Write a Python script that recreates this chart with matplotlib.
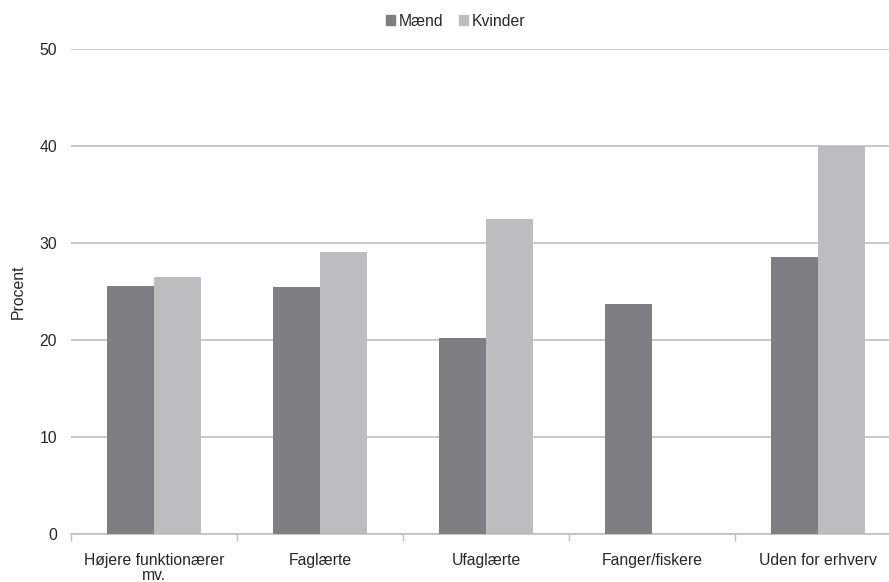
import matplotlib as mpl
import matplotlib.pyplot as plt
import numpy as np
from matplotlib.patches import Patch

mpl.rcParams['font.family'] = ['Liberation Sans', 'DejaVu Sans']
mpl.rcParams['font.size'] = 11.3

# data (procent)
categories = ["Højere funktionærer\nmv.", "Faglærte", "Ufaglærte", "Fanger/fiskere", "Uden for erhverv"]
maend = [25.6, 25.5, 20.2, 23.7, 28.6]
kvinder = [26.5, 29.1, 32.5, 0.0, 40.0]
yticks = [0, 10, 20, 30, 40, 50]

col_m = '#7e7f83'
col_k = '#bcbdbf'
col_grid = '#bfbfbf'
col_text = '#262626'
fs = 11.3

fig = plt.figure(figsize=(8.89, 5.82), dpi=100)
# the plot area runs a little past the right edge of the figure
ax = fig.add_axes([71/889, 1-534/582, 830/889, (534-49.3)/582])

x = np.arange(len(categories))
w = 0.283
ax.bar(x - w/2, maend, width=w, color=col_m, zorder=3)
ax.bar(x + w/2, kvinder, width=w, color=col_k, zorder=3)

ax.set_xlim(-0.5, len(categories) - 0.5)
ax.set_ylim(0, 50)
ax.set_yticks(yticks)
ax.yaxis.grid(True, color=col_grid, linewidth=1.2, zorder=0)
ax.tick_params(axis='y', length=0, pad=10, labelsize=fs, labelcolor=col_text)

# category labels at the centres, tick marks on the boundaries
ax.set_xticks(x)
ax.set_xticklabels(categories, fontsize=fs, color=col_text, linespacing=1.0)
ax.tick_params(axis='x', length=0, pad=13.5)
ax.set_xticks(np.arange(len(categories) + 1) - 0.5, minor=True)
ax.tick_params(axis='x', which='minor', length=5, color=col_grid, width=1)

for s in ['top', 'right', 'left']:
    ax.spines[s].set_visible(False)
ax.spines['bottom'].set_color(col_grid)
ax.spines['bottom'].set_linewidth(1.2)

ax.set_ylabel("Procent", fontsize=fs, color=col_text, labelpad=10)

handles = [Patch(color=col_m, label="Mænd"), Patch(color=col_k, label="Kvinder")]
fig.legend(handles=handles, loc='center', bbox_to_anchor=(456/889, 1-21/582), ncol=2,
           frameon=False, handlelength=0.55, handleheight=0.55, handletextpad=0.25,
           columnspacing=1.0, fontsize=fs, labelcolor=col_text)

plt.savefig("out.png", dpi=100)
